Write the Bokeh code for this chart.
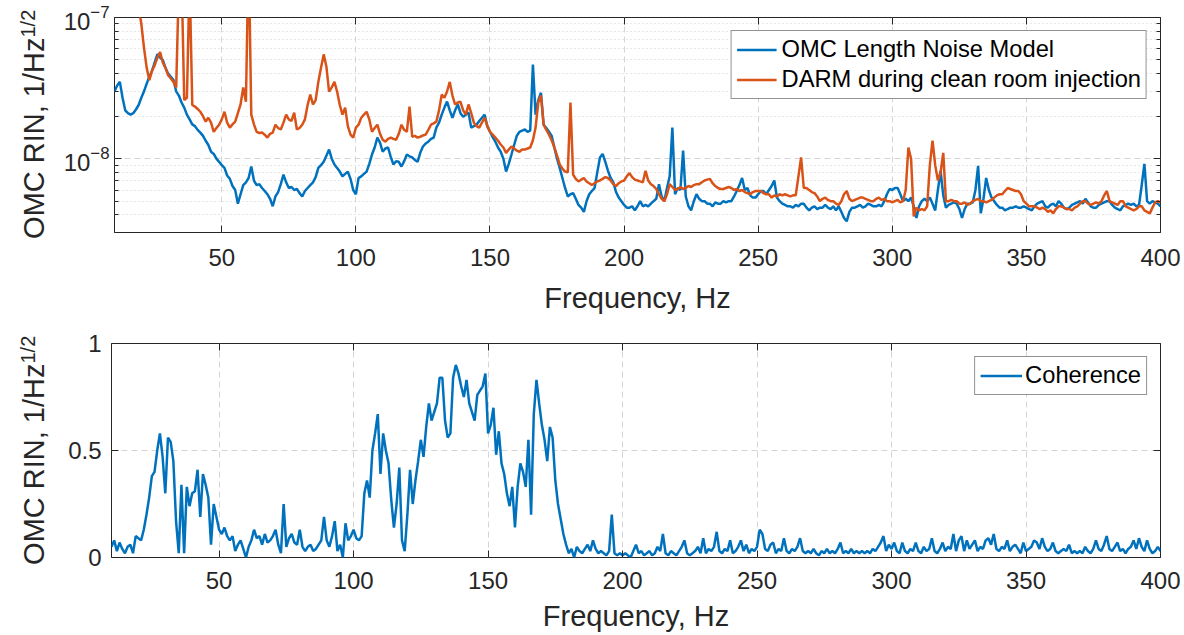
from bokeh.plotting import figure
from bokeh.models import (Range1d, FixedTicker, LinearAxis, LogAxis, Legend,
                          LegendItem, CustomJSTickFormatter, ColumnDataSource)
from bokeh.layouts import column, row
from bokeh.core.properties import value
from bokeh.embed import file_html
from bokeh.resources import INLINE

# ---------------- data ----------------
freq = list(range(10, 401))  # Hz, 1 Hz bins

# OMC length noise model, RIN in units of 1e-9 /sqrt(Hz)
model_nrin = [
    30, 33, 35, 27, 22, 21, 20.5, 21, 22.3, 24,
    27, 30, 34, 38, 42, 48, 55, 52, 50, 44,
    40, 38, 36, 30, 28, 25, 23, 20.5, 19, 17.5,
    17, 16, 15.3, 14.5, 13.4, 12.5, 11.2, 10.8, 10, 9.5,
    9.0, 8.6, 7.6, 7.2, 6.4, 6.0, 4.8, 5.6, 6.5, 6.8,
    7.3, 8.8, 7.0, 6.5, 6.6, 6.2, 5.9, 5.6, 5.2, 4.6,
    5.4, 5.8, 6.6, 7.7, 6.8, 6.2, 6.3, 6.0, 6.1, 5.7,
    5.4, 5.9, 6.2, 6.5, 6.8, 7.4, 8.6, 9.0, 9.5, 10.5,
    11.6, 10.0, 9.1, 8.6, 8.1, 7.5, 7.8, 8.1, 7.2, 6.0,
    5.6, 7.3, 7.5, 7.8, 8.1, 9.2, 10.7, 12.0, 14.1, 13.0,
    11.2, 11.8, 12.0, 10.3, 9.1, 9.6, 9.5, 8.8, 9.6, 10.7,
    10.4, 10.2, 9.8, 9.5, 11.0, 12.2, 12.8, 13.2, 13.8, 14.1,
    16.6, 18.0, 20.5, 23.0, 25.4, 22.0, 19.5, 22.0, 24.2, 21.0,
    19.8, 20.5, 21.2, 16.6, 17.0, 17.4, 18.5, 19.5, 20.5, 17.0,
    15.5, 14.2, 13.2, 12.0, 11.2, 10.0, 8.1, 9.2, 10.7, 12.5,
    14.5, 15.5, 15.8, 16.1, 15.5, 15.8, 46.4, 20.5, 26.0, 29.3,
    17.4, 16.5, 15.5, 14.5, 12.0, 10.0, 8.6, 7.3, 6.2, 5.4,
    5.6, 5.7, 5.2, 4.7, 4.5, 4.2, 5.0, 5.6, 5.9, 6.2,
    8.0, 10.2, 10.8, 9.5, 8.2, 7.3, 6.8, 5.8, 5.3, 5.0,
    4.7, 4.5, 4.5, 4.6, 4.3, 4.6, 5.0, 4.6, 4.7, 4.6,
    4.8, 5.0, 5.2, 6.6, 5.4, 5.0, 6.2, 7.5, 16.6, 5.6,
    6.2, 6.0, 11.4, 5.4, 4.6, 4.3, 5.0, 5.6, 5.2, 5.0,
    5.0, 4.8, 4.8, 4.6, 4.9, 4.8, 4.8, 5.0, 4.9, 5.0,
    5.0, 5.4, 5.9, 6.5, 7.3, 6.0, 6.2, 5.5, 5.3, 5.3,
    5.6, 5.9, 5.9, 5.6, 6.0, 6.4, 7.0, 5.3, 5.0, 4.8,
    4.7, 4.6, 4.6, 4.5, 4.7, 4.6, 4.8, 4.8, 4.5, 4.3,
    4.5, 4.6, 4.4, 4.5, 4.5, 4.7, 4.5, 4.4, 4.6, 4.3,
    4.6, 4.2, 3.8, 3.6, 4.2, 4.5, 4.5, 4.6, 4.7, 4.5,
    4.6, 4.8, 4.7, 4.6, 4.6, 4.7, 4.6, 5.0, 5.6, 6.1,
    6.0, 6.2, 6.2, 5.6, 5.0, 5.2, 5.0, 5.3, 4.6, 3.8,
    4.6, 5.0, 5.2, 5.0, 5.3, 4.8, 4.3, 6.0, 8.2, 5.5,
    4.5, 4.7, 4.8, 4.9, 4.8, 4.4, 3.8, 4.4, 4.8, 4.8,
    4.9, 6.0, 8.9, 4.1, 5.2, 7.3, 6.0, 5.3, 5.0, 4.7,
    4.5, 4.5, 4.3, 4.4, 4.5, 4.5, 4.6, 4.5, 4.5, 4.6,
    4.5, 4.4, 4.3, 4.6, 4.8, 4.9, 5.0, 4.6, 4.5, 4.7,
    4.8, 4.6, 5.0, 4.8, 4.5, 4.4, 4.5, 4.7, 4.8, 4.9,
    5.0, 4.8, 5.2, 4.9, 4.6, 4.5, 4.5, 4.7, 4.8, 4.9,
    5.0, 5.0, 4.7, 4.5, 4.4, 4.3, 4.6, 4.7, 4.8, 4.7,
    4.8, 4.6, 4.7, 6.5, 9.2, 5.0, 4.8, 5.0, 4.9, 4.8,
    4.6,
]

# DARM during clean room injection, RIN in units of 1e-9 /sqrt(Hz)
darm_nrin = [
    400, 360, 320, 280, 250, 220, 190, 165, 140, 120,
    90, 61, 44, 36, 42, 46, 52, 57, 48, 44,
    39, 37, 35, 32, 180, 200, 26, 27, 190, 24,
    23.4, 22.5, 21.5, 20, 18.3, 19.5, 18.0, 15.5, 16.5, 17.4,
    19.0, 21.5, 18.0, 16.6, 17.5, 18.3, 21.0, 24.2, 31.9, 25.3,
    300, 20.5, 17.5, 15.5, 15.2, 15.3, 14.8, 14.1, 15.0, 15.3,
    17.4, 16.5, 16.1, 18.0, 20.5, 19.0, 18.5, 21.2, 16.1, 16.5,
    17.4, 19.0, 24.0, 28.4, 24.2, 26.0, 35.0, 44.0, 54.8, 45.0,
    29.9, 32.0, 35.0, 29.9, 24.0, 20.5, 23.0, 17.0, 14.8, 14.1,
    16.6, 17.4, 19.5, 20.5, 21.5, 19.0, 15.5, 16.5, 17.4, 15.0,
    13.6, 13.2, 13.8, 14.1, 13.8, 13.6, 15.0, 17.4, 16.0, 15.5,
    23.4, 14.3, 14.5, 14.1, 14.3, 14.6, 14.8, 16.0, 17.4, 17.8,
    18.3, 22.0, 28.4, 27.0, 29.9, 35.0, 28.0, 24.2, 25.0, 25.3,
    22.0, 20.5, 24.2, 21.0, 18.0, 17.0, 16.6, 18.0, 19.5, 17.0,
    15.5, 14.8, 14.1, 13.4, 12.6, 12.0, 11.0, 11.6, 12.2, 11.8,
    11.4, 11.2, 11.6, 11.6, 11.8, 12.0, 13.5, 16.6, 25.0, 28.0,
    17.4, 16.0, 14.8, 13.5, 12.0, 10.5, 9.1, 8.5, 8.1, 8.0,
    25.0, 7.7, 7.2, 6.9, 7.1, 7.3, 6.9, 6.7, 6.5, 6.7,
    6.9, 7.0, 7.2, 7.4, 7.3, 7.0, 6.6, 6.4, 6.7, 6.9,
    7.0, 7.5, 7.9, 7.4, 7.1, 7.0, 6.9, 6.8, 8.2, 7.0,
    6.6, 6.4, 6.1, 5.6, 5.2, 5.0, 5.6, 6.6, 6.3, 6.0,
    6.1, 6.3, 6.1, 6.2, 6.4, 6.3, 6.5, 6.6, 6.6, 6.8,
    7.0, 7.1, 7.2, 6.7, 6.4, 6.2, 6.1, 6.1, 6.2, 6.3,
    6.2, 6.0, 6.1, 5.9, 6.0, 5.8, 5.7, 5.6, 5.8, 5.9,
    5.9, 5.9, 5.7, 5.6, 5.6, 5.3, 5.5, 5.4, 5.6, 5.5,
    5.6, 5.5, 5.4, 5.5, 5.5, 7.5, 10.2, 6.2, 6.2, 6.0,
    5.8, 5.7, 5.4, 5.0, 5.2, 5.3, 5.1, 5.0, 5.0, 4.8,
    4.7, 5.0, 5.6, 5.9, 5.2, 5.0, 5.1, 5.2, 5.3, 5.3,
    5.2, 5.1, 5.0, 5.0, 5.2, 5.3, 5.1, 5.2, 5.0, 5.0,
    4.9, 5.0, 5.1, 4.9, 5.0, 6.0, 12.0, 10.0, 3.9, 4.5,
    4.3, 4.4, 4.3, 4.6, 9.0, 13.4, 9.0, 7.0, 8.0, 11.0,
    5.0, 5.0, 5.1, 5.0, 5.0, 4.8, 4.8, 4.9, 4.7, 4.8,
    5.0, 5.1, 5.2, 5.0, 5.0, 4.9, 5.0, 5.1, 5.3, 5.5,
    5.6, 5.6, 5.9, 6.2, 6.1, 6.0, 5.9, 5.9, 5.6, 5.0,
    4.8, 4.6, 4.6, 4.6, 4.5, 4.4, 4.5, 4.4, 4.2, 4.3,
    4.1, 4.4, 4.6, 4.6, 4.5, 4.4, 4.4, 4.3, 4.5, 4.6,
    4.8, 5.0, 5.0, 4.8, 4.7, 4.8, 4.9, 4.8, 5.0, 5.5,
    5.9, 5.0, 4.9, 4.8, 4.7, 5.0, 5.0, 4.6, 4.5, 4.4,
    4.3, 4.4, 4.6, 4.6, 4.3, 4.2, 4.1, 4.5, 4.9, 5.0,
    4.9,
]

coherence = [
    .05, .08, .03, .07, .04, .02, .05, .06, .02, .10,
    .09, .08, .13, .20, .28, .38, .40, .50, .58, .47,
    .30, .56, .54, .45, .17, .02, .34, .02, .33, .24,
    .30, .31, .41, .19, .39, .34, .28, .06, .25, .19,
    .13, .11, .14, .10, .08, .10, .03, .06, .08, .04,
    .00, .05, .08, .13, .09, .10, .06, .11, .07, .08,
    .10, .13, .06, .02, .25, .05, .09, .11, .07, .06,
    .13, .05, .03, .05, .06, .03, .04, .06, .08, .19,
    .08, .05, .10, .17, .03, .06, .00, .16, .08, .10,
    .13, .09, .08, .10, .30, .36, .28, .50, .58, .67,
    .39, .58, .50, .44, .27, .14, .25, .42, .08, .03,
    .20, .41, .25, .36, .45, .55, .47, .61, .72, .64,
    .68, .72, .84, .84, .64, .56, .58, .84, .90, .86,
    .80, .75, .83, .72, .68, .64, .76, .78, .80, .86,
    .58, .62, .70, .48, .59, .44, .39, .30, .24, .33,
    .14, .33, .44, .40, .33, .55, .20, .67, .83, .72,
    .62, .55, .45, .61, .56, .36, .25, .18, .11, .06,
    .02, .04, .00, .05, .03, .02, .04, .06, .03, .08,
    .04, .02, .03, .02, .01, .03, .20, .02, .01, .02,
    .01, .02, .01, .00, .03, .06, .02, .03, .01, .02,
    .03, .01, .02, .05, .03, .11, .02, .01, .03, .02,
    .01, .03, .05, .08, .02, .01, .02, .03, .05, .02,
    .09, .02, .04, .03, .05, .12, .03, .02, .04, .03,
    .08, .02, .03, .05, .08, .03, .06, .02, .04, .03,
    .05, .13, .11, .04, .03, .06, .07, .02, .04, .03,
    .09, .03, .02, .04, .03, .05, .09, .03, .02, .03,
    .02, .04, .02, .01, .03, .02, .04, .02, .03, .02,
    .04, .07, .02, .03, .02, .04, .02, .03, .02, .03,
    .02, .03, .02, .04, .03, .05, .07, .10, .03, .06,
    .04, .07, .03, .02, .07, .03, .02, .04, .03, .07,
    .03, .02, .05, .03, .04, .09, .03, .02, .04, .07,
    .03, .05, .04, .11, .03, .08, .10, .03, .08, .04,
    .06, .08, .03, .05, .04, .08, .09, .06, .11, .04,
    .03, .05, .04, .08, .03, .05, .06, .04, .02, .07,
    .03, .04, .05, .08, .07, .04, .09, .05, .03, .04,
    .07, .03, .02, .03, .04, .03, .06, .02, .03, .02,
    .03, .02, .05, .03, .02, .04, .08, .04, .03, .06,
    .10, .04, .03, .05, .07, .03, .04, .02, .04, .05,
    .08, .04, .09, .05, .03, .08, .04, .02, .03, .05,
    .03,
]

x_ticks = [50, 100, 150, 200, 250, 300, 350, 400]
top_y_ticks = [1e-8, 1e-7]
top_y_minor = [3e-9, 4e-9, 5e-9, 6e-9, 7e-9, 8e-9, 9e-9,
               2e-8, 3e-8, 4e-8, 5e-8, 6e-8, 7e-8, 8e-8, 9e-8]
bot_y_ticks = [0, 0.5, 1]
bot_y_labels = {0: "0", 0.5: "0.5", 1: "1"}
series_names = ["OMC Length Noise Model", "DARM during clean room injection"]
coh_name = "Coherence"
y_label_main = "OMC RIN, 1/Hz"
y_label_sup = "1/2"
x_label = "Frequency, Hz"

assert len(model_nrin) == len(freq) and len(darm_nrin) == len(freq) and len(coherence) == len(freq)

# ---------------- styling ----------------
FONT = "Liberation Sans"
INK = "#262626"
BLUE = "#0072BD"
ORANGE = "#D95319"
TICK_FS = "24px"
LEG_FS = "23.7px"
LABEL_FS = "29px"
YLABEL_FS = "29px"
SUP_FS = "20px"
LW = 2.5
W = 1184
LAB_W = 60            # width of the strip that carries the rotated y label
XMIN, XMAX = 10, 400
blank = CustomJSTickFormatter(code="return ''")


def style_axis(ax, show_labels=True):
    ax.axis_line_color = None
    ax.major_tick_in = 7
    ax.major_tick_out = 0
    ax.minor_tick_in = 4
    ax.minor_tick_out = 0
    ax.major_tick_line_color = INK
    ax.minor_tick_line_color = INK
    ax.major_label_text_font = FONT
    ax.major_label_text_font_size = TICK_FS
    ax.major_label_text_color = INK
    ax.axis_label_text_font = FONT
    ax.axis_label_text_font_size = LABEL_FS
    ax.axis_label_text_color = INK
    ax.axis_label_text_font_style = "normal"
    if not show_labels:
        ax.formatter = blank
        ax.major_label_text_font_size = "0px"


def label_strip(height, junction_from_top):
    """narrow figure holding the rotated y-axis label 'OMC RIN, 1/Hz^(1/2)'"""
    s = figure(width=LAB_W, height=height, x_range=Range1d(0, LAB_W), y_range=Range1d(0, height),
               x_axis_location=None, y_axis_location=None, output_backend="svg",
               toolbar_location=None, min_border=0, min_border_left=0, min_border_right=0,
               min_border_top=0, min_border_bottom=0, frame_align=False)
    s.grid.visible = False
    s.outline_line_color = None
    yj = height - junction_from_top
    s.text(x=[33], y=[yj], text=[y_label_main], angle=90, angle_units="deg",
           text_align="right", text_baseline="middle",
           text_font=value(FONT), text_font_size=value(YLABEL_FS), text_color=INK)
    s.text(x=[27], y=[yj], text=[y_label_sup], angle=90, angle_units="deg",
           text_align="left", text_baseline="middle",
           text_font=value(FONT), text_font_size=value(SUP_FS), text_color=INK)
    return s


# ---------------- top panel ----------------
src = ColumnDataSource(dict(
    f=freq,
    model=[v * 1e-9 for v in model_nrin],
    darm=[v * 1e-9 for v in darm_nrin],
    coh=coherence,
))

p1 = figure(width=W - LAB_W, height=320, y_axis_type="log",
            x_range=Range1d(XMIN, XMAX), y_range=Range1d(3e-9, 1e-7),
            output_backend="svg", toolbar_location=None,
            min_border_left=111 - LAB_W, min_border_right=24,
            min_border_top=17, min_border_bottom=88)
p1.outline_line_color = INK
p1.outline_line_width = 1

r_model = p1.line("f", "model", source=src, line_color=BLUE, line_width=LW)
r_darm = p1.line("f", "darm", source=src, line_color=ORANGE, line_width=LW)

p1.xaxis.ticker = FixedTicker(ticks=x_ticks)
p1.yaxis.ticker = FixedTicker(ticks=top_y_ticks, minor_ticks=top_y_minor)
p1.xaxis.axis_label = x_label
for ax in p1.xaxis + p1.yaxis:
    style_axis(ax)
p1.xaxis.major_label_standoff = 16
p1.xaxis.axis_label_standoff = 13
p1.yaxis.major_label_standoff = 5

top_ax = LinearAxis(ticker=FixedTicker(ticks=x_ticks))
style_axis(top_ax, False)
p1.add_layout(top_ax, "above")
right_ax = LogAxis(ticker=FixedTicker(ticks=top_y_ticks, minor_ticks=top_y_minor))
style_axis(right_ax, False)
p1.add_layout(right_ax, "right")

p1.xgrid.ticker = FixedTicker(ticks=x_ticks)
p1.xgrid.grid_line_color = "#d4d4d4"
p1.xgrid.grid_line_dash = "6 4"
p1.ygrid.ticker = FixedTicker(ticks=top_y_ticks, minor_ticks=top_y_minor)
p1.ygrid.grid_line_color = "#d4d4d4"
p1.ygrid.grid_line_dash = "6 4"
p1.ygrid.minor_grid_line_color = "#cfcfcf"
p1.ygrid.minor_grid_line_dash = "1 3"

leg1 = Legend(items=[LegendItem(label=series_names[0], renderers=[r_model]),
                     LegendItem(label=series_names[1], renderers=[r_darm])],
              location="top_right", margin=13, padding=5, spacing=3,
              glyph_width=40, glyph_height=27, label_height=27, label_standoff=5,
              label_text_font=FONT, label_text_font_size=LEG_FS, label_text_color="black",
              border_line_color=INK, border_line_width=1, background_fill_alpha=1)
p1.add_layout(leg1)

# ---------------- bottom panel ----------------
p2 = figure(width=W - LAB_W, height=315,
            x_range=Range1d(XMIN, XMAX), y_range=Range1d(0, 1),
            output_backend="svg", toolbar_location=None,
            min_border_left=111 - LAB_W, min_border_right=24,
            min_border_top=23, min_border_bottom=78)
p2.outline_line_color = INK
p2.outline_line_width = 1
r_coh = p2.line("f", "coh", source=src, line_color=BLUE, line_width=LW)

p2.xaxis.ticker = FixedTicker(ticks=x_ticks)
p2.yaxis.ticker = FixedTicker(ticks=bot_y_ticks)
p2.yaxis.major_label_overrides = bot_y_labels
p2.xaxis.axis_label = x_label
for ax in p2.xaxis + p2.yaxis:
    style_axis(ax)
p2.xaxis.major_label_standoff = 14
p2.xaxis.axis_label_standoff = 8
p2.yaxis.major_label_standoff = 10

top_ax2 = LinearAxis(ticker=FixedTicker(ticks=x_ticks))
style_axis(top_ax2, False)
p2.add_layout(top_ax2, "above")
right_ax2 = LinearAxis(ticker=FixedTicker(ticks=bot_y_ticks))
style_axis(right_ax2, False)
p2.add_layout(right_ax2, "right")

p2.xgrid.ticker = FixedTicker(ticks=x_ticks)
p2.xgrid.grid_line_color = "#d4d4d4"
p2.xgrid.grid_line_dash = "6 4"
p2.ygrid.ticker = FixedTicker(ticks=bot_y_ticks)
p2.ygrid.grid_line_color = "#d4d4d4"
p2.ygrid.grid_line_dash = "6 4"

leg2 = Legend(items=[LegendItem(label=coh_name, renderers=[r_coh])],
              location="top_right", margin=13, padding=5, spacing=3,
              glyph_width=42, glyph_height=27, label_height=27, label_standoff=3,
              label_text_font=FONT, label_text_font_size=LEG_FS, label_text_color="black",
              border_line_color=INK, border_line_width=1, background_fill_alpha=1)
p2.add_layout(leg2)

lab1 = label_strip(320, 37)
lab2 = label_strip(315, 43)

layout = column(row(lab1, p1, spacing=0), row(lab2, p2, spacing=0), spacing=0)
open("out.html", "w").write(file_html(layout, INLINE))
